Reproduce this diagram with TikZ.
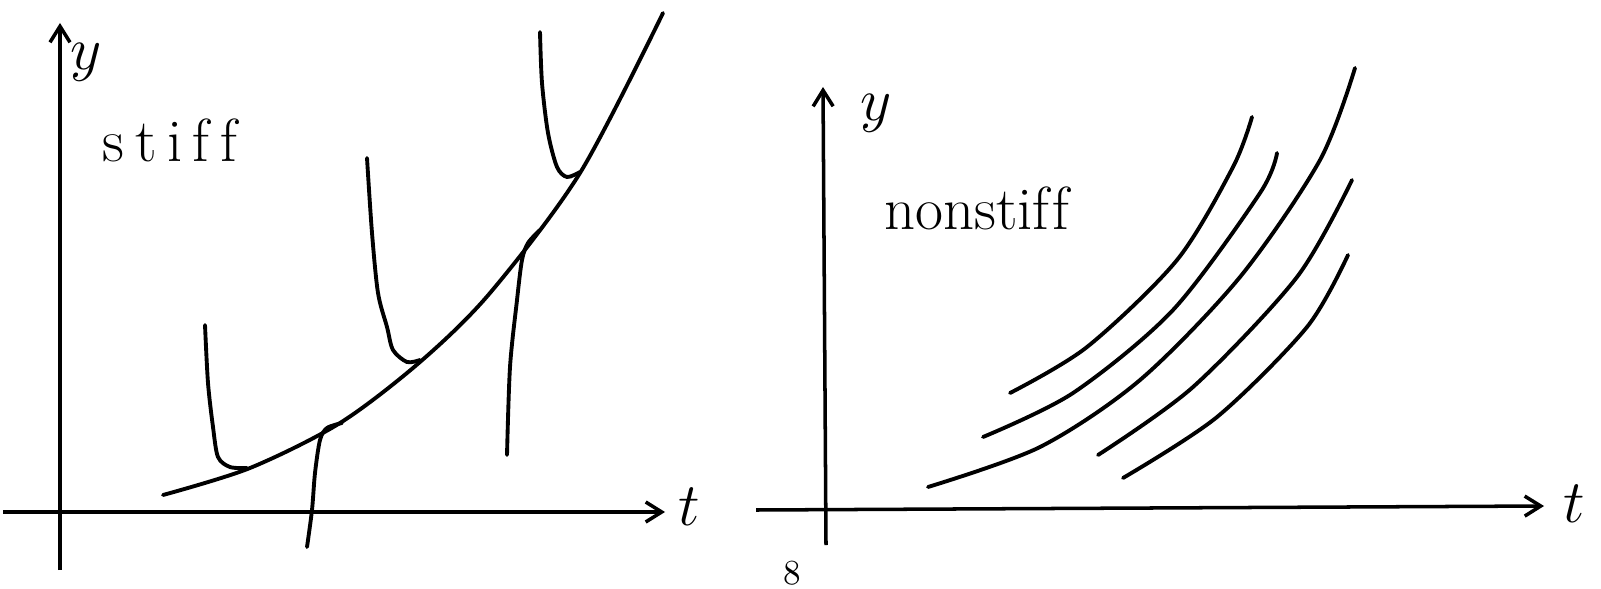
\documentclass[tikz,border=0pt]{standalone}
\usepackage{amsmath,amssymb}
\usepackage{tikz}
\usetikzlibrary{arrows.meta}

\begin{document}
\begin{tikzpicture}[
    x={(0.01cm,0)}, y={(0,-0.01cm)},
    axis/.style={line width=1pt, -{Straight Barb[length=1.6mm, width=2mm, line width=1pt]}},
    curve/.style={line width=1.1pt, line cap=round},
    lbl/.style={inner sep=0pt, font=\LARGE}
]
\useasboundingbox (0,0) rectangle (1601,588);

% stiff
\coordinate (t0) at (3,512);
\coordinate (t1) at (665,512);
\coordinate (y0) at (60,570);
\coordinate (y1) at (60,23);
\draw[axis] (t0) -- (t1);
\draw[axis] (y0) -- (y1);
\node[lbl] (ylab) at (86,62) {$y$};
\node[lbl] (tlab) at (689,507) {$t$};
\node[lbl] (stiff) at (170,140) {s\kern3pt t\kern3pt i\kern3pt f\kern3pt f};

\draw[curve] plot[smooth] coordinates {(163,495) (250,468) (340,423) (420,362) (490,293) (580,173) (663,13)};
\draw[curve] plot[smooth] coordinates {(205,325) (208,383) (213,427) (218,457) (230,467) (247,468)};
\draw[curve] plot[smooth] coordinates {(367,158) (372,233) (378,293) (387,327) (393,350) (407,362) (420,360)};
\draw[curve] plot[smooth] coordinates {(540,32) (542,83) (548,133) (557,167) (567,177) (580,172)};
\draw[curve] plot[smooth] coordinates {(307,547) (312,510) (315,473) (320,440) (327,428) (342,423)};
\draw[curve] plot[smooth] coordinates {(507,455) (510,367) (517,300) (522,260) (528,243) (540,230)};

% nonstiff
\coordinate (T0) at (756,510);
\coordinate (T1) at (1544,506);
\coordinate (Y0) at (826,545);
\coordinate (Y1) at (823,87);
\draw[axis] (T0) -- (T1);
\draw[axis] (Y0) -- (Y1);
\node[lbl] (Ylab) at (876,113) {$y$};
\node[lbl] (Tlab) at (1574,504) {$t$};
\node[lbl] (nonstiff) at (977,208) {nonsti{f}\kern1pt f};
\node[inner sep=0pt] (page) at (792,573) {8};

\draw[curve] plot[smooth] coordinates {(1010,393) (1087,347) (1177,260) (1233,167) (1252,117)};
\draw[curve] plot[smooth] coordinates {(983,437) (1073,393) (1173,310) (1260,193) (1277,153)};
\draw[curve] plot[smooth] coordinates {(928,487) (1040,447) (1140,380) (1240,277) (1320,160) (1355,68)};
\draw[curve] plot[smooth] coordinates {(1098,455) (1193,387) (1297,277) (1352,180)};
\draw[curve] plot[smooth] coordinates {(1123,478) (1217,417) (1307,327) (1348,255)};

\end{tikzpicture}
\end{document}
